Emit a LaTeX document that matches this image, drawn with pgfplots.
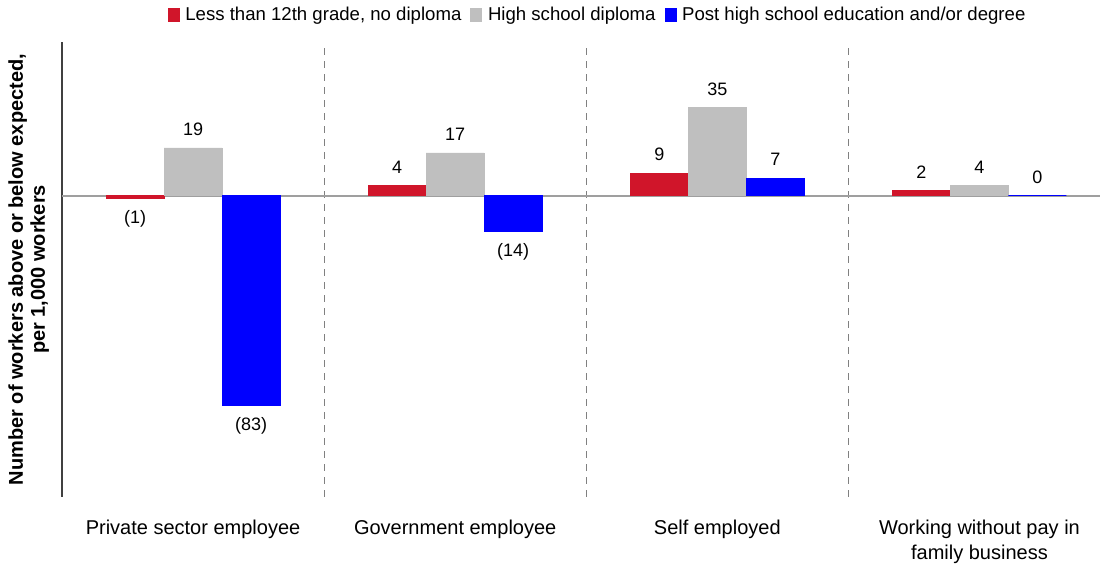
\documentclass[border=0pt]{standalone}
\usepackage{fontspec}
\setmainfont{Liberation Sans}
\usepackage{pgfplots}
\usepackage{pgfplotstable}
\pgfplotsset{compat=1.18}
\definecolor{cred}{RGB}{208,21,42}
\definecolor{cgray}{RGB}{191,191,191}
\definecolor{cblue}{RGB}{0,0,255}

\pgfplotstableread{
x y label
0 -1 (1)
1 4 4
2 9 9
3 2 2
}\lessdata
\pgfplotstableread{
x y label
0 19 19
1 17 17
2 35 35
3 4 4
}\hsdata
\pgfplotstableread{
x y label
0 -83 (83)
1 -14 (14)
2 7 7
3 0 0
}\postdata

\begin{document}
\begin{tikzpicture}
\begin{axis}[
  scale only axis, width=519pt, height=227.5pt,
  xmin=-0.5, xmax=3.46, ymin=-119.5, ymax=61,
  ybar=0pt, bar width=0.2214,
  axis x line*=bottom, axis y line*=left,
  x axis line style={draw=none},
  y axis line style={draw=black!75, line width=0.6pt, -},
  xtick={0,1,2,3},
  xticklabels={Private sector employee, Government employee, Self employed, {Working without pay in\\family business}},
  ytick=\empty,
  major tick length=0pt,
  xticklabel style={align=center, font=\fontsize{10}{12.5}\selectfont, yshift=-8pt},
  extra x ticks={0.5,1.5,2.5}, extra x tick labels={},
  extra x tick style={grid=major, major grid style={draw=gray, dash pattern=on 3.5pt off 3pt, line width=0.6pt}},
  extra y ticks={0}, extra y tick labels={},
  extra y tick style={grid=major, major grid style={draw=gray!75, line width=0.8pt}},
  ylabel={Number of workers above or below expected,\\per 1,000 workers},
  ylabel style={align=center, font=\bfseries\fontsize{10}{11}\selectfont, at={(axis description cs:-0.032,0.5)}, anchor=center},
  legend style={at={(axis description cs:0.515,1)}, anchor=center, yshift=13.5pt, draw=none, fill=none,
    legend columns=-1, font=\fontsize{9.3}{11}\selectfont,
    nodes={inner sep=0pt},
    /tikz/every odd column/.append style={column sep=3pt},
    /tikz/every even column/.append style={column sep=4.5pt}},
  legend image code/.code={\fill[#1] (0pt,-3.3pt) rectangle (5.5pt,3.4pt);},
  nodes near coords, point meta=explicit symbolic,
  visualization depends on=rawy \as \rawy,
  every node near coord/.append style={font=\fontsize{9}{11}\selectfont, inner ysep=6pt, text=black,
    anchor={\ifdim\rawy pt<0pt north\else south\fi}},
]
\addplot[fill=cred, draw=cred, line width=0.3pt] table[x=x, y=y, meta=label] {\lessdata};
\addlegendentry{Less than 12th grade, no diploma}
\addplot[fill=cgray, draw=cgray, line width=0.3pt] table[x=x, y=y, meta=label] {\hsdata};
\addlegendentry{High school diploma}
\addplot[fill=cblue, draw=cblue, line width=0.3pt] table[x=x, y=y, meta=label] {\postdata};
\addlegendentry{Post high school education and/or degree}
\end{axis}
\path (current axis.south west) ++(-31pt,-35pt);
\path (current axis.north east) ++(1.5pt,21pt);
\end{tikzpicture}
\end{document}
